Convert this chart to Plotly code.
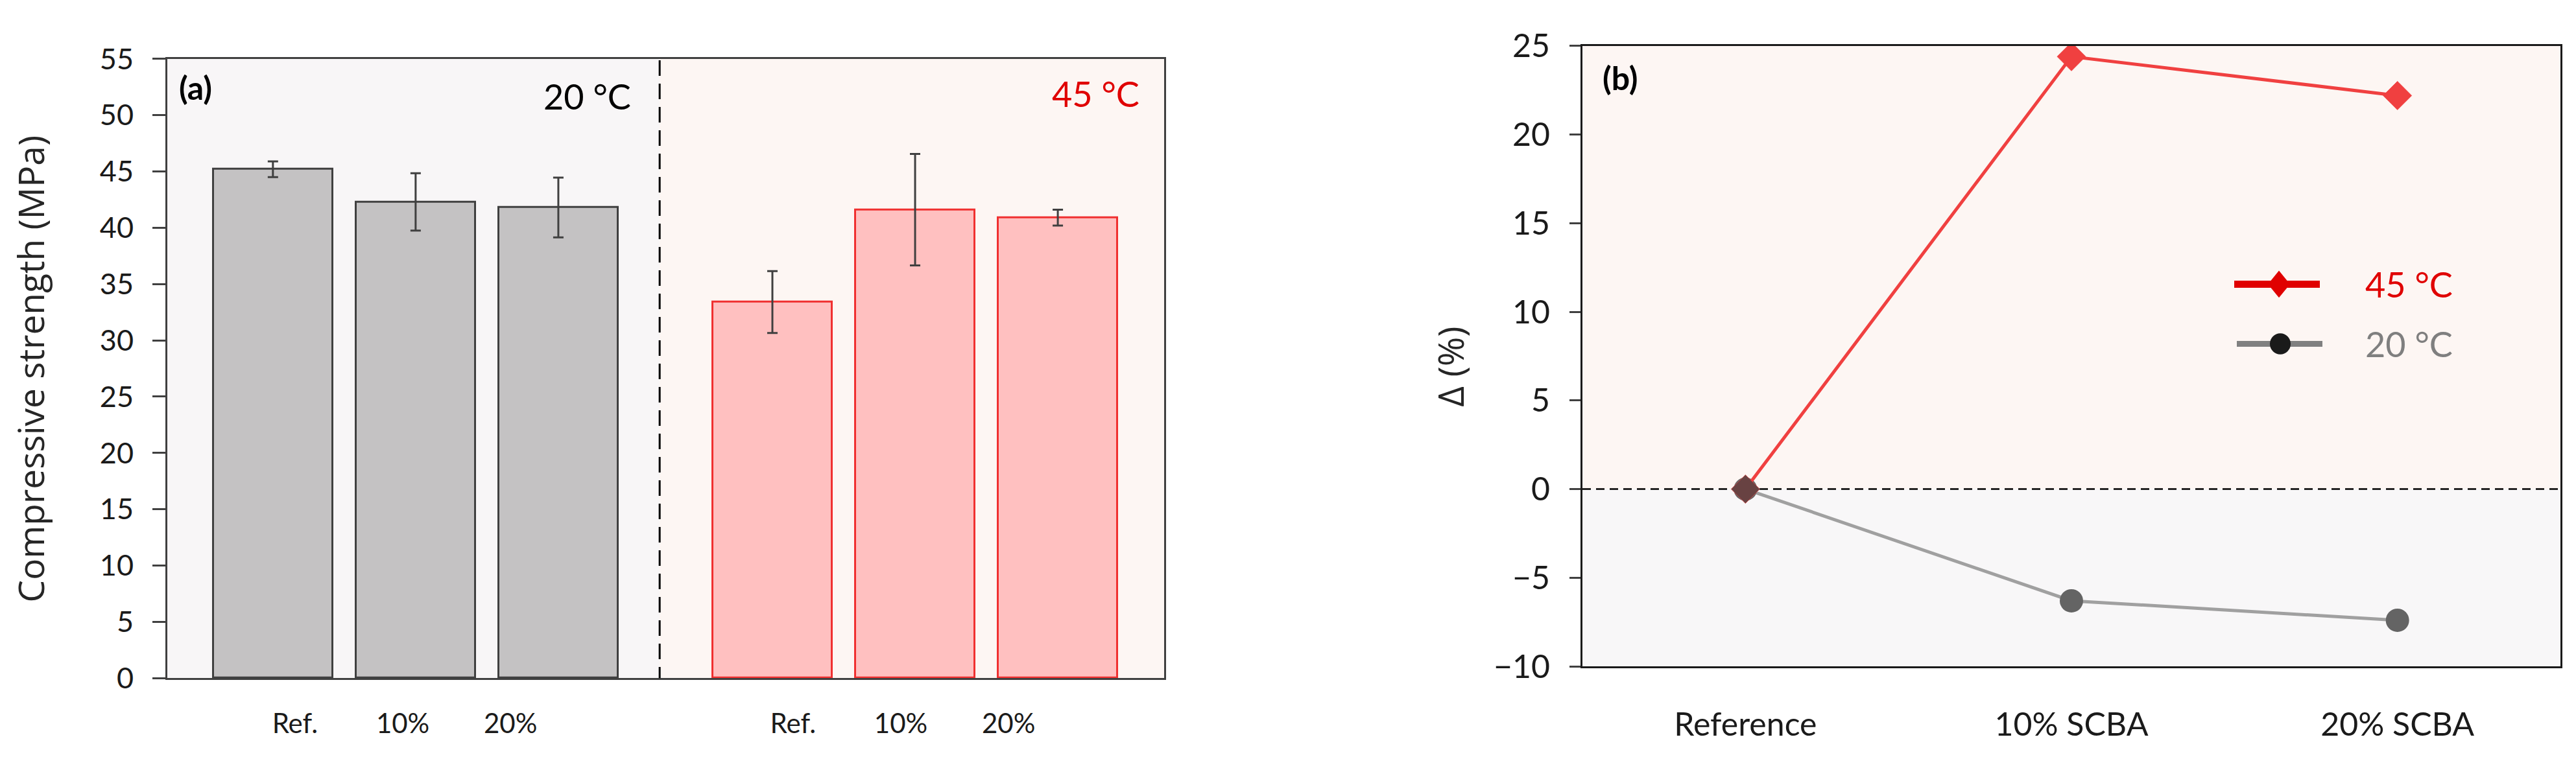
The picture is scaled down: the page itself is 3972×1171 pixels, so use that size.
import plotly.graph_objects as go

# ---------------- data ----------------
mix_labels = ["Ref.", "10%", "20%"]
strength_20 = [45.2, 42.3, 41.8]
err_20 = [0.7, 2.55, 2.65]
strength_45 = [33.4, 41.6, 40.9]
err_45 = [2.75, 4.95, 0.7]

delta_categories = ["Reference", "10% SCBA", "20% SCBA"]
delta_45 = [0.0, 24.4, 22.2]
delta_20 = [0.0, -6.3, -7.4]

ya_ticks = list(range(0, 56, 5))
yb_ticks = list(range(-10, 26, 5))

# ---------------- layout helpers ----------------
W, H = 3972, 1171
def px(x):
    return x / W
def py(y):
    return 1 - y / H

FONT = "Lato, Roboto, 'Noto Sans', sans-serif"
AX = "#404040"

pos_20 = [i for i in range(len(strength_20))]
pos_45 = [i + 3.5 for i in range(len(strength_45))]
tick_20 = [p - 0.09 + (p - 1) * -0.245 for p in pos_20]
tick_45 = [p - 0.1 + (p - 4.5) * -0.245 for p in pos_45]
divider = 2.71

fig = go.Figure()

fig.add_trace(go.Bar(
    x=pos_20, y=strength_20, width=0.836,
    marker=dict(color="rgb(196,194,195)", line=dict(color="#404040", width=3)),
    error_y=dict(type="data", array=err_20, color="#404040", thickness=3, width=8),
    xaxis="x", yaxis="y", showlegend=False,
))
fig.add_trace(go.Bar(
    x=pos_45, y=strength_45, width=0.836,
    marker=dict(color="rgb(255,192,192)", line=dict(color="rgb(240,48,48)", width=3)),
    error_y=dict(type="data", array=err_45, color="#404040", thickness=3, width=8),
    xaxis="x", yaxis="y", showlegend=False,
))

fig.add_trace(go.Scatter(
    x=delta_categories, y=delta_20, mode="lines+markers",
    line=dict(color="rgb(160,160,160)", width=5),
    marker=dict(symbol="circle", size=36, color="rgb(100,100,100)"),
    xaxis="x2", yaxis="y2", showlegend=False,
))
red_marker_colors = ["rgb(104,66,66)"] + ["rgb(240,64,64)"] * (len(delta_45) - 1)
fig.add_trace(go.Scatter(
    x=delta_categories, y=delta_45, mode="lines+markers",
    line=dict(color="rgb(240,64,64)", width=5),
    marker=dict(symbol="diamond", size=34, color=red_marker_colors,
                line=dict(color="rgba(240,64,64,0.6)", width=1)),
    xaxis="x2", yaxis="y2", showlegend=False,
))

shapes = [
    dict(type="rect", xref="x", yref="y", x0=divider, x1=6.245, y0=0, y1=55,
         fillcolor="rgb(253,246,243)", line=dict(width=0), layer="below"),
    dict(type="line", xref="x", yref="y", x0=divider, x1=divider, y0=-0.4, y1=55,
         line=dict(color="black", width=3, dash="24px,12px")),
    dict(type="rect", xref="x2", yref="y2", x0=-0.5, x1=2.5, y0=0, y1=25,
         fillcolor="rgb(253,246,243)", line=dict(width=0), layer="below"),
    dict(type="rect", xref="x2", yref="y2", x0=-0.5, x1=2.5, y0=-10, y1=0,
         fillcolor="rgb(248,247,248)", line=dict(width=0), layer="below"),
    dict(type="line", xref="x2", yref="y2", x0=-0.5, x1=2.5, y0=0, y1=0,
         line=dict(color="black", width=2.5, dash="13px,8px"), layer="below"),
    # custom legend
    dict(type="line", xref="paper", yref="paper", x0=px(3445), x1=px(3577), y0=py(429), y1=py(429),
         line=dict(color="#E00000", width=11)),
    dict(type="path", xref="paper", yref="paper",
         path=f"M {px(3497)},{py(429)} L {px(3514)},{py(407)} L {px(3531)},{py(429)} L {px(3514)},{py(451)} Z",
         fillcolor="#E00000", line=dict(width=0)),
    dict(type="line", xref="paper", yref="paper", x0=px(3449), x1=px(3581), y0=py(526), y1=py(526),
         line=dict(color="#808080", width=9)),
    dict(type="circle", xref="paper", yref="paper", x0=px(3500), x1=px(3532), y0=py(543), y1=py(509),
         fillcolor="#1a1a1a", line=dict(width=0)),
]

annotations = [
    dict(text="<b>(a)</b>", xref="paper", yref="paper", x=px(274), y=py(109),
         xanchor="left", yanchor="middle", showarrow=False, font=dict(size=50, color="black", family=FONT)),
    dict(text="20 °C", xref="paper", yref="paper", x=px(975), y=py(124),
         xanchor="right", yanchor="middle", showarrow=False, font=dict(size=54, color="black", family=FONT)),
    dict(text="45 °C", xref="paper", yref="paper", x=px(1759), y=py(120),
         xanchor="right", yanchor="middle", showarrow=False, font=dict(size=54, color="#E00000", family=FONT)),
    dict(text="<b>(b)</b>", xref="paper", yref="paper", x=px(2469), y=py(94),
         xanchor="left", yanchor="middle", showarrow=False, font=dict(size=50, color="black", family=FONT)),
    dict(text="Compressive strength (MPa)", xref="paper", yref="paper", x=px(46), y=py(567),
         textangle=-90, xanchor="center", yanchor="middle", showarrow=False,
         font=dict(size=55, color="#262626", family="'Open Sans', sans-serif")),
    dict(text="Δ (%)", xref="paper", yref="paper", x=px(2236), y=py(563),
         textangle=-90, xanchor="center", yanchor="middle", showarrow=False,
         font=dict(size=55, color="#262626", family="'Open Sans', sans-serif")),
    dict(text="45 °C", xref="paper", yref="paper", x=px(3645), y=py(429),
         xanchor="left", yanchor="middle", showarrow=False, font=dict(size=54, color="#E00000", family=FONT)),
    dict(text="20 °C", xref="paper", yref="paper", x=px(3645), y=py(526),
         xanchor="left", yanchor="middle", showarrow=False, font=dict(size=54, color="#7F7F7F", family=FONT)),
]

fig.update_layout(
    width=W, height=H, autosize=False,
    margin=dict(l=0, r=0, t=0, b=0),
    paper_bgcolor="white",
    plot_bgcolor="rgb(248,246,247)",
    font=dict(family=FONT, color="#1a1a1a"),
    bargap=0,
    shapes=shapes,
    annotations=annotations,
    xaxis=dict(domain=[px(258), px(1795)], range=[-0.74, 6.245],
               tickvals=tick_20 + tick_45, ticktext=mix_labels + mix_labels,
               ticks="", showgrid=False, zeroline=False,
               showline=True, linecolor=AX, linewidth=3, mirror=True,
               tickfont=dict(size=42, color="#1a1a1a"), ticklabelstandoff=31),
    yaxis=dict(domain=[py(1069), py(63)], range=[0, 55], tickvals=ya_ticks,
               ticks="outside", ticklen=20, tickwidth=3, tickcolor=AX,
               showgrid=False, zeroline=False,
               showline=True, linecolor=AX, linewidth=3, mirror=True,
               tickfont=dict(size=45, color="#1a1a1a"), ticklabelstandoff=20),
    xaxis2=dict(domain=[px(2440), px(3948)], range=[-0.5, 2.5], type="category",
                ticks="", showgrid=False, zeroline=False,
                showline=True, linecolor="#1a1a1a", linewidth=3, mirror=True,
                tickfont=dict(size=50, color="#1a1a1a"), ticklabelstandoff=44,
                anchor="y2"),
    yaxis2=dict(domain=[py(1050), py(42)], range=[-10, 25], tickvals=yb_ticks,
                ticks="outside", ticklen=17, tickwidth=3, tickcolor=AX,
                showgrid=False, zeroline=False,
                showline=True, linecolor="#1a1a1a", linewidth=3, mirror=True,
                tickfont=dict(size=50, color="#1a1a1a"), ticklabelstandoff=20,
                anchor="x2"),
)

fig.write_html("out.html", config={"displayModeBar": False},
               post_script="document.body.style.margin='0';")
